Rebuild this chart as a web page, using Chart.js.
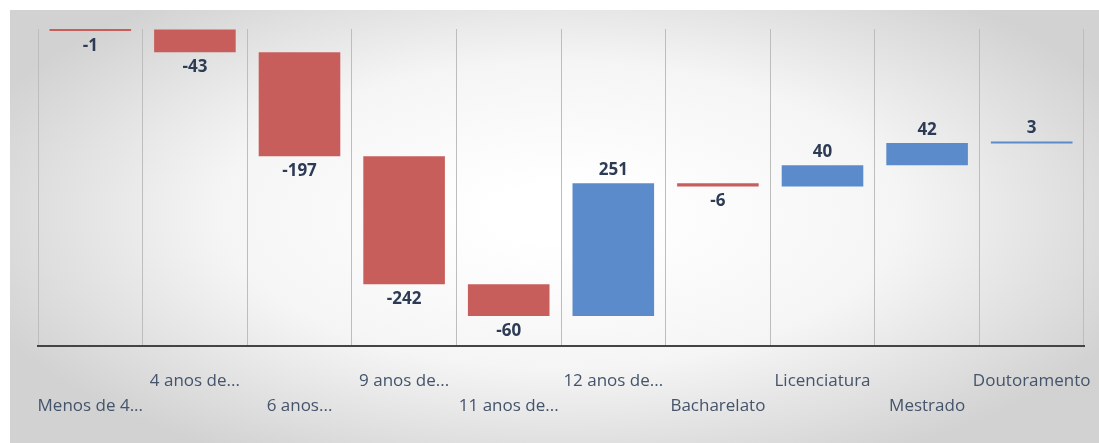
<!DOCTYPE html>
<html>
<head>
<meta charset="utf-8">
<script src="https://cdn.jsdelivr.net/npm/chart.js@4/dist/chart.umd.min.js"></script>
<style>
  html, body { margin: 0; padding: 0; background: #fff; }
  #wrap { width: 1099px; height: 443px; }
</style>
</head>
<body>
<div id="wrap"><canvas id="myChart" width="1099" height="443"></canvas></div>
<script>
// categorias (níveis de escolaridade)
const categorias = ['Menos de 4...', '4 anos de...', '6 anos...', '9 anos de...', '11 anos de...',
  '12 anos de...', 'Bacharelato', 'Licenciatura', 'Mestrado', 'Doutoramento'];
// variações
const variacoes = [-1, -43, -197, -242, -60, 251, -6, 40, 42, 3];

const corNegativo = '#c75e5c';
const corPositivo = '#5b8bcb';

// cascata: cada barra começa onde a anterior acabou
let acumulado = 0;
const barras = variacoes.map(v => {
  const inicio = acumulado;
  acumulado += v;
  return [inicio, acumulado];
});

// etiquetas alternadas em duas linhas
const etiquetas = categorias.map((c, i) => i % 2 === 0 ? ['', c] : [c, '']);

const fundo = {
  id: 'fundo',
  beforeDraw(chart) {
    const ctx = chart.ctx;
    ctx.save();
    ctx.fillStyle = '#fff';
    ctx.fillRect(0, 0, chart.width, chart.height);
    ctx.translate(560, 215);
    ctx.scale(1, 0.45);
    const g = ctx.createRadialGradient(0, 0, 60, 0, 0, 620);
    g.addColorStop(0, '#ffffff');
    g.addColorStop(0.5, '#f5f5f5');
    g.addColorStop(1, '#d2d2d2');
    ctx.fillStyle = g;
    ctx.fillRect(-550, -205 / 0.45, 1089, 433 / 0.45);
    ctx.restore();
  }
};

const rotulos = {
  id: 'rotulos',
  afterDatasetsDraw(chart) {
    const ctx = chart.ctx;
    const meta = chart.getDatasetMeta(0);
    ctx.save();
    ctx.font = 'bold 17px "Open Sans", sans-serif';
    ctx.fillStyle = '#2d3b55';
    ctx.textAlign = 'center';
    ctx.textBaseline = 'middle';
    meta.data.forEach((bar, i) => {
      const v = variacoes[i];
      const y = v < 0 ? Math.max(bar.y, bar.base) + 15 : Math.min(bar.y, bar.base) - 13;
      ctx.fillText(String(v), bar.x, y);
    });
    ctx.restore();
  }
};

new Chart(document.getElementById('myChart'), {
  type: 'bar',
  data: {
    labels: etiquetas,
    datasets: [{
      data: barras,
      backgroundColor: variacoes.map(v => v < 0 ? corNegativo : corPositivo),
      barPercentage: 0.78,
      categoryPercentage: 1,
      minBarLength: 2
    }]
  },
  options: {
    responsive: false,
    animation: false,
    layout: { padding: { left: 38, right: 15, top: 29, bottom: 10 } },
    plugins: { legend: { display: false }, tooltip: { enabled: false } },
    scales: {
      x: {
        afterFit(scale) {
          scale.paddingLeft = 0;
          scale.paddingRight = 0;
          scale.height = 87;
        },
        grid: { color: '#bdbdbd', lineWidth: 1, drawTicks: false },
        border: { color: '#444', width: 2 },
        ticks: {
          autoSkip: false, maxRotation: 0, padding: 22,
          color: '#44546a',
          font: { family: '"Open Sans", sans-serif', size: 17, lineHeight: 1.5 }
        }
      },
      y: { display: false, min: -600, max: 0 }
    }
  },
  plugins: [fundo, rotulos]
});
</script>
</body>
</html>
